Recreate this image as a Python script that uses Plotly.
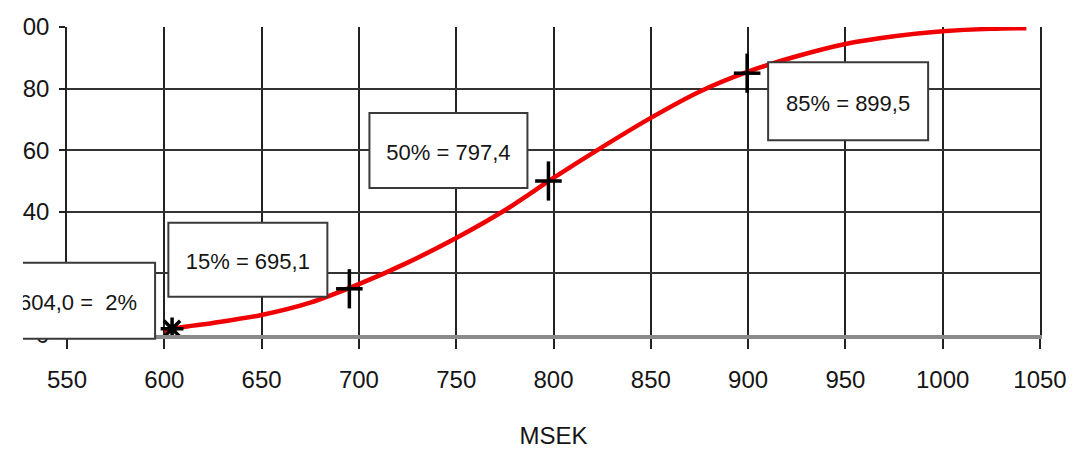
import plotly.graph_objects as go

# ---- data ----
msek = [600, 604, 625, 650, 675, 700, 725, 750, 775, 800, 825, 850, 875,
        900, 925, 950, 975, 1000, 1025, 1043]
pct = [1.2, 2, 3.9, 6.5, 10.5, 16.5, 23.5, 31.5, 40.5, 51, 61, 70.5, 79,
       85.5, 90.5, 94.5, 97, 98.6, 99.4, 99.6]

start_msek = [604.0]
start_pct = [2]
start_text = "604,0 =  2%"

label_msek = [695.1, 797.4, 899.5]
label_pct = [15, 50, 85]
label_texts = ["15% = 695,1", "50% = 797,4", "85% = 899,5"]

x_ticks = [550, 600, 650, 700, 750, 800, 850, 900, 950, 1000, 1050]
y_ticks = [0, 20, 40, 60, 80, 100]
x_title = "MSEK"

FONT = "Liberation Sans, Arial, sans-serif"
TXT = "#151515"

# layout geometry (figure pixels)
W, H = 1091, 452
ML, MR, MT, MB = 59, 59, 19, 125
PW, PH = W - ML - MR, H - MT - MB
XR = [x_ticks[0], x_ticks[-1]]
YR = [y_ticks[0], y_ticks[-1]]


def px_x(xv, dx):
    """paper x of a data value shifted by dx pixels"""
    return (xv - XR[0]) / (XR[1] - XR[0]) + dx / PW


def px_y(yv, dy):
    return (yv - YR[0]) / (YR[1] - YR[0]) + dy / PH


fig = go.Figure()

fig.add_trace(go.Scatter(
    x=msek, y=pct, mode="lines",
    line=dict(color="#f00000", width=4.5, shape="spline", smoothing=0.8),
    hoverinfo="skip"))

# cross markers (vertical + horizontal bar)
fig.add_trace(go.Scatter(
    x=label_msek, y=label_pct, mode="markers",
    marker=dict(symbol="line-ns", size=28, line=dict(color="#000", width=3.5)),
    hoverinfo="skip"))
fig.add_trace(go.Scatter(
    x=label_msek, y=label_pct, mode="markers",
    marker=dict(symbol="line-ew", size=19, line=dict(color="#000", width=3.5)),
    hoverinfo="skip"))
# asterisk at the start
fig.add_trace(go.Scatter(
    x=start_msek, y=start_pct, mode="markers",
    marker=dict(symbol="asterisk", size=19, line=dict(color="#000", width=3.5)),
    hoverinfo="skip"))

shapes = []
box_offsets = [(-181, -22, -8, 66), (-179, -21, -7, 68), (21, 181, -67, 11)]
for xv, yv, txt, (x0, x1, y0, y1) in zip(label_msek, label_pct, label_texts, box_offsets):
    shapes.append(dict(
        type="rect", xref="paper", yref="paper",
        x0=px_x(xv, x0), x1=px_x(xv, x1), y0=px_y(yv, y0), y1=px_y(yv, y1),
        fillcolor="white", line=dict(color="#3a3a3a", width=2), layer="above",
        label=dict(text=txt, textposition="middle center", padding=0,
                   font=dict(family=FONT, size=22, color=TXT))))

shapes.append(dict(
    type="rect", xref="paper", yref="paper",
    x0=px_x(start_msek[0], -200), x1=px_x(start_msek[0], -17),
    y0=px_y(start_pct[0], -10), y1=px_y(start_pct[0], 66),
    fillcolor="white", line=dict(color="#3a3a3a", width=2), layer="above",
    label=dict(text=start_text, textposition="middle right", padding=15,
               font=dict(family=FONT, size=22, color=TXT))))

# white strip: the reference picture is cut off on the left
shapes.append(dict(
    type="rect", xref="paper", yref="paper",
    x0=-ML / PW - 0.02, x1=(15 - ML) / PW,
    y0=-MB / PH - 0.05, y1=1 + MT / PH + 0.05,
    fillcolor="white", line=dict(width=0), layer="above"))

fig.update_layout(
    width=W, height=H,
    margin=dict(l=ML, r=MR, t=MT, b=MB, autoexpand=False),
    paper_bgcolor="white", plot_bgcolor="white",
    showlegend=False, hovermode=False,
    shapes=shapes,
    font=dict(family=FONT, color=TXT),
)

fig.update_xaxes(
    range=XR, tickvals=x_ticks, ticktext=[str(v) for v in x_ticks],
    automargin=False,
    showgrid=True, gridcolor="#222", gridwidth=1.5,
    showline=True, linecolor="#8a8a8a", linewidth=4,
    ticks="outside", ticklen=10, tickwidth=1.5, tickcolor="#222",
    ticklabelstandoff=10,
    tickfont=dict(family=FONT, size=24, color=TXT),
    title=dict(text=x_title, font=dict(family=FONT, size=24, color=TXT), standoff=36),
    zeroline=False, fixedrange=True)

fig.update_yaxes(
    range=YR, tickvals=y_ticks, ticktext=[str(v) for v in y_ticks],
    automargin=False,
    showgrid=True, gridcolor="#333", gridwidth=2,
    showline=True, mirror=True, linecolor="#222", linewidth=1.5,
    ticks="outside", ticklen=6, tickwidth=1.5, tickcolor="#222",
    ticklabelstandoff=5,
    tickfont=dict(family=FONT, size=24, color=TXT),
    zeroline=False, fixedrange=True)

fig.write_html("out.html")
